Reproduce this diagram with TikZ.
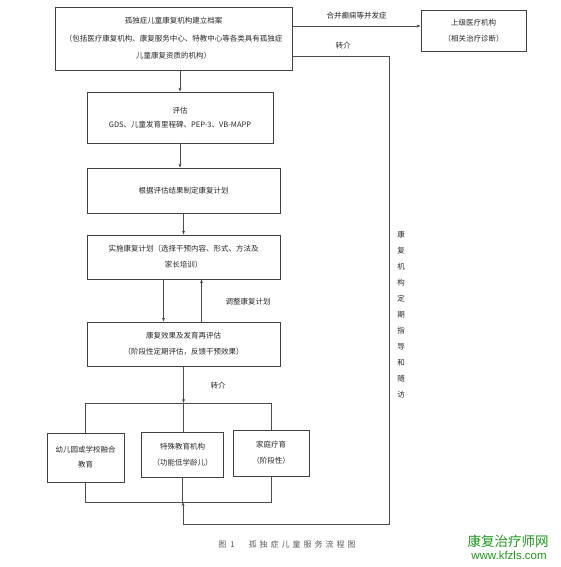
\documentclass[tikz,border=0pt]{standalone}
\usepackage{fontspec}
\setmainfont{Noto Sans CJK SC}
\newfontfamily\latinfont{Liberation Sans}
\usetikzlibrary{arrows.meta}
\definecolor{markgreen}{RGB}{30,150,30}

\begin{document}
\begin{tikzpicture}[x=1pt,y=-1pt,
    every node/.style={font=\fontsize{7.5}{16}\selectfont,text=black!85},
    box/.style={draw=black!75,line width=0.8pt,align=center,inner sep=0pt},
    link/.style={draw=black!70,line width=0.6pt},
    arr/.style={link,-{Stealth[length=4pt,width=3pt]}}]
  \useasboundingbox (0,0) rectangle (560,567);
  % main column
  \node[box,minimum width=237pt,minimum height=63pt,font=\fontsize{7.5}{17.5}\selectfont] (file) at (173.5,38.5)
     {孤独症儿童康复机构建立档案\\（包括医疗康复机构、康复服务中心、特教中心等各类具有孤独症\\儿童康复资质的机构）};
  \node[box,minimum width=105pt,minimum height=41pt] (upper) at (473.5,30.5) {上级医疗机构\\（相关治疗诊断）};
  \node[box,minimum width=186pt,minimum height=51pt,font=\fontsize{7.5}{14}\selectfont] (assess) at (180,117.5)
     {评估\\GDS、儿童发育里程碑、PEP-3、VB-MAPP};
  \node[box,minimum width=193pt,minimum height=45pt] (make) at (183.5,190.5) {根据评估结果制定康复计划};
  \node[box,minimum width=193pt,minimum height=44pt] (plan) at (183.5,257)
     {实施康复计划（选择干预内容、形式、方法及\\家长培训）};
  \node[box,minimum width=193pt,minimum height=44pt] (review) at (183.5,344)
     {康复效果及发育再评估\\（阶段性定期评估，反馈干预效果）};
  % referral targets
  \node[box,minimum width=77pt,minimum height=49pt,font=\fontsize{7.5}{15}\selectfont] (school) at (85.5,457.5) {幼儿园或学校融合\\教育};
  \node[box,minimum width=82pt,minimum height=45pt] (special) at (182.5,454.5) {特殊教育机构\\（功能低学龄儿）};
  \node[box,minimum width=76pt,minimum height=46pt] (home) at (271,453) {家庭疗育\\（阶段性）};
  \coordinate (bustop) at (183.5,403);
  \coordinate (busbot) at (183,502);
  \coordinate (fbbot) at (389,524);
  % connectors
  \draw[arr] ([yshift=12.5pt]file.east) -- ([yshift=12.5pt]file.east -| upper.west)
     node[midway,above=3pt] (complic) {合并癫痫等并发症};
  \draw[arr] ([yshift=-17.5pt]file.east) -| (fbbot) -| (busbot);
  \node (refer1) at (343,46) {转介};
  \draw[arr] (assess.north |- file.south) -- (assess.north);
  \foreach \a/\b in {assess/make,make/plan}
     \draw[arr] (\a.south) -- (\a.south |- \b.north);
  \draw[arr] ([xshift=-20pt]plan.south) -- ([xshift=-20pt]plan.south |- review.north);
  \draw[arr] ([xshift=18pt]review.north) -- ([xshift=18pt]review.north |- plan.south);
  \node (adjust) at (248,302) {调整康复计划};
  \draw[arr] (review.south) -- (bustop);
  \node (refer2) at (218,386) {转介};
  \draw[link] (school.north) -- (school.north |- bustop) -- (home.north |- bustop) -- (home.north);
  \draw[link] (bustop) -- (bustop |- special.north);
  \draw[link] (school.south) -- (school.south |- busbot) -- (home.south |- busbot) -- (home.south);
  \draw[link] (special.south) -- (special.south |- busbot);
  \node[align=center] (visit) at (401,315) {康\\复\\机\\构\\定\\期\\指\\导\\和\\随\\访};
  % caption and mark
  \node[text=black!65,font=\fontsize{8}{10}\selectfont] (caption) at (287,544)
     {图\hspace{4pt}1\hspace{14pt}孤\hspace{3pt}独\hspace{3pt}症\hspace{3pt}儿\hspace{3pt}童\hspace{3pt}服\hspace{3pt}务\hspace{3pt}流\hspace{3pt}程\hspace{3pt}图};
  \node[text=markgreen,font=\fontsize{13.5}{15}\selectfont] (markcn) at (508,541) {康复治疗师网};
  \node[text=markgreen,font=\latinfont\fontsize{11.5}{13}\selectfont] (markurl) at (509,555) {www.kfzls.com};
\end{tikzpicture}
\end{document}
